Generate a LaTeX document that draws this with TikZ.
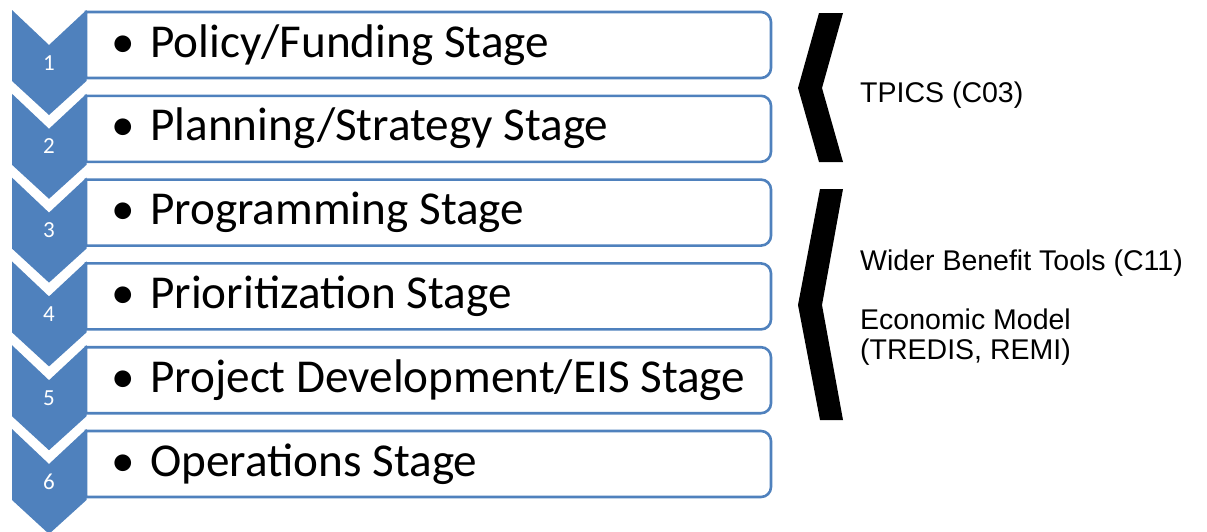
\documentclass[tikz,border=0pt]{standalone}
\usepackage{fontspec}
\setmainfont{Carlito}
\newfontfamily\arialfont{Liberation Sans}
\definecolor{stageblue}{HTML}{4F81BD}
\begin{document}
\begin{tikzpicture}[x=1pt,y=-1pt,
  chev/.style={fill=stageblue,draw=none},
  stagebox/.style={draw=stageblue,line width=2.6pt,fill=white},
  stagetext/.style={anchor=base west,inner sep=0pt,font=\fontsize{47.2}{47}\selectfont,text=black},
  numtext/.style={anchor=base,inner sep=0pt,font=\fontsize{23}{23}\selectfont,text=white},
  tooltext/.style={anchor=base west,inner sep=0pt,font=\arialfont\fontsize{28.5}{30}\selectfont,text=black},
  bracket/.style={fill=black,draw=none}]
\useasboundingbox (0,0) rectangle (1207,531);
\begin{scope}
\clip (0,0) rectangle (1207,531);
\foreach \k/\lab/\num in {0/Policy\slash Funding Stage/1,1/Planning\slash Strategy Stage/2,2/Programming Stage/3,3/Prioritization Stage/4,4/Project Development\slash EIS Stage/5,5/Operations Stage/6}{
  \pgfmathsetmacro{\bt}{12+83.8*\k}
  \pgfmathsetmacro{\ct}{10+83.8*\k}
  \draw[stagebox] (86,\bt+66) -- (86,\bt) [rounded corners=10pt] -- (771,\bt) -- (771,\bt+66) [sharp corners] -- (86,\bt+66) -- cycle;
  \fill[chev] (12,\ct) -- (49,\ct+35) -- (86.5,\ct) -- (86.5,\ct+71) -- (49,\ct+105) -- (12,\ct+71) -- cycle;
  \node[numtext] (n\num) at (49,\ct+60) {\num};
  \node[stagetext] (s\num) at (111,\bt+45) {\makebox[39pt][l]{\textbullet}\lab};
}
\end{scope}
\fill[bracket] (819,13) -- (843,13) -- (822,88) -- (843,162) -- (819,162) -- (798,88) -- cycle;
\fill[bracket] (820,189) -- (843,189) -- (822,305) -- (843,420) -- (820,420) -- (798,305) -- cycle;
\node[tooltext] (t1) at (860,102) {TPICS (C03)};
\node[tooltext] (t2) at (860,270) {Wider Benefit Tools (C11)};
\node[tooltext] (t3) at (860,329) {Economic Model};
\node[tooltext] (t4) at (860,359) {(TREDIS, REMI)};
\end{tikzpicture}
\end{document}
